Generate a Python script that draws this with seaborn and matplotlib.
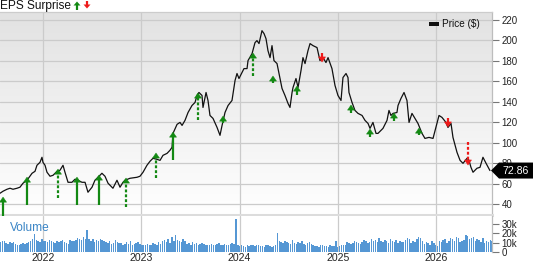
import numpy as np
import pandas as pd
import matplotlib
matplotlib.use("Agg")
import matplotlib.pyplot as plt
import seaborn as sns
from matplotlib.patches import Polygon
from matplotlib.colors import LinearSegmentedColormap
from matplotlib.ticker import FuncFormatter

# ---------------- data ----------------
t_price = [2021.563, 2021.594, 2021.634, 2021.665, 2021.695, 2021.736, 2021.766, 2021.797, 2021.838,
           2021.889, 2021.919, 2021.939, 2021.970, 2021.990, 2022.000, 2022.021, 2022.041, 2022.072,
           2022.102, 2022.143, 2022.173, 2022.204, 2022.224, 2022.255, 2022.295, 2022.326, 2022.356,
           2022.397, 2022.428, 2022.458, 2022.499, 2022.529, 2022.560, 2022.600, 2022.631, 2022.662,
           2022.712, 2022.753, 2022.784, 2022.814, 2022.835, 2022.885, 2022.957, 2022.987, 2023.018,
           2023.058, 2023.089, 2023.119, 2023.160, 2023.191, 2023.221, 2023.262, 2023.292, 2023.313,
           2023.323, 2023.364, 2023.394, 2023.415, 2023.445, 2023.476, 2023.516, 2023.547, 2023.567,
           2023.587, 2023.618, 2023.628, 2023.659, 2023.679, 2023.699, 2023.730, 2023.771, 2023.801,
           2023.822, 2023.852, 2023.883, 2023.923, 2023.954, 2023.974, 2023.994, 2024.025, 2024.045,
           2024.076, 2024.086, 2024.127, 2024.157, 2024.177, 2024.198, 2024.228, 2024.249, 2024.269,
           2024.289, 2024.310, 2024.330, 2024.350, 2024.381, 2024.401, 2024.432, 2024.462, 2024.493,
           2024.513, 2024.534, 2024.544, 2024.574, 2024.595, 2024.625, 2024.645, 2024.666, 2024.696,
           2024.717, 2024.747, 2024.788, 2024.818, 2024.849, 2024.879, 2024.900, 2024.940, 2024.971,
           2025.001, 2025.032, 2025.052, 2025.083, 2025.103, 2025.113, 2025.144, 2025.174, 2025.205,
           2025.246, 2025.276, 2025.307, 2025.327, 2025.357, 2025.388, 2025.408, 2025.459, 2025.500,
           2025.520, 2025.540, 2025.561, 2025.601, 2025.612, 2025.642, 2025.673, 2025.703, 2025.724,
           2025.754, 2025.785, 2025.815, 2025.856, 2025.886, 2025.927, 2025.968, 2026.008, 2026.029,
           2026.059, 2026.100, 2026.120, 2026.151, 2026.171, 2026.212, 2026.243, 2026.273, 2026.314,
           2026.334, 2026.354, 2026.375, 2026.415, 2026.446, 2026.476, 2026.507, 2026.547]
price = [50.7, 52.7, 54.6, 55.6, 54.6, 55.6, 56.6, 60.5, 63.4,
         70.2, 72.1, 78.0, 80.9, 85.8, 80.9, 78.0, 71.2, 67.3,
         68.2, 72.1, 73.1, 78.0, 71.2, 61.4, 61.4, 64.4, 63.4,
         61.4, 61.4, 51.7, 56.6, 63.4, 66.3, 70.2, 67.3, 60.5,
         55.6, 63.4, 56.6, 61.4, 63.4, 65.3, 66.3, 67.3, 71.2,
         78.0, 81.9, 84.8, 83.8, 82.8, 87.7, 89.6, 92.6, 95.5,
         109.1, 117.9, 119.8, 116.9, 121.8, 129.5, 136.3, 139.3, 146.1,
         149.0, 146.1, 134.4, 149.0, 141.2, 126.6, 123.7, 114.9, 107.2,
         116.9, 129.5, 136.3, 141.2, 160.7, 167.5, 162.6, 168.4, 172.3,
         172.3, 180.1, 186.9, 197.6, 199.6, 196.7, 209.3, 206.4, 201.5,
         189.8, 183.0, 194.7, 180.1, 177.2, 167.5, 152.9, 146.1, 138.3,
         134.4, 149.0, 153.9, 162.6, 153.9, 170.4, 183.0, 177.2, 189.8,
         196.7, 194.7, 192.8, 180.1, 183.0, 178.2, 183.0, 172.3, 155.8,
         146.1, 141.2, 163.6, 167.5, 163.6, 149.0, 139.3, 131.5, 128.6,
         126.6, 121.8, 118.8, 114.0, 119.8, 109.1, 109.1, 114.0, 121.8,
         131.5, 126.6, 128.6, 129.5, 136.3, 143.2, 149.0, 141.2, 119.8,
         128.6, 123.7, 118.8, 109.1, 104.2, 105.2, 104.2, 118.8, 126.6,
         124.7, 119.8, 114.9, 118.8, 105.2, 90.6, 82.8, 79.9, 84.8,
         82.8, 76.0, 71.2, 75.1, 76.0, 85.8, 80.0, 72.86]

# EPS surprise events: time, arrow tip, arrow tail (price units), direction, dashed stem
eps_t = [2021.594, 2021.838, 2022.153, 2022.346, 2022.570, 2022.845, 2023.150, 2023.323,
         2023.577, 2023.832, 2024.137, 2024.340, 2024.584, 2024.839, 2025.134, 2025.327,
         2025.571, 2025.825, 2026.120, 2026.324]
eps_tip = [47.0, 66.5, 74.3, 66.5, 68.5, 65.6, 90.0, 110.4,
           148.5, 126.0, 187.5, 165.1, 155.3, 178.7, 136.8, 113.4,
           129.0, 114.3, 115.3, 78.2]
eps_tail = [19.7, 39.2, 46.0, 39.2, 39.2, 37.3, 65.6, 83.1,
            122.1, 119.2, 165.1, 158.2, 146.5, 187.5, 129.0, 105.6,
            121.2, 107.5, 124.1, 100.7]
eps_dir = ['up', 'up', 'up', 'up', 'up', 'up', 'up', 'up',
           'up', 'up', 'up', 'up', 'up', 'down', 'up', 'up',
           'up', 'up', 'down', 'down']
eps_dashed = [False, False, True, False, False, True, True, False,
              True, False, True, False, False, False, False, False,
              False, False, False, True]

# weekly volume (thousands)
vol_k = [11, 12, 12, 10, 9, 11, 10, 11,
         9, 8, 8, 9, 10, 9,
         10, 11, 12, 14, 19, 13, 12, 11, 14, 12,
         12, 11, 13, 12, 11, 10, 12, 11,
         12, 13, 11, 10, 9, 13, 12, 12,
         13, 15, 14, 13, 16, 14, 24, 14,
         12, 14, 11, 13, 12, 14, 13, 12,
         11, 10, 12, 9, 10, 13, 11, 10,
         10, 8, 9, 11, 9, 12, 8, 9, 10, 11, 9,
         8, 7, 7, 9, 8, 7, 10, 9, 8, 11, 9,
         12, 13, 11, 14, 10, 16, 12, 18, 13, 12, 11, 14, 12,
         9, 10, 8, 11, 9, 10, 8, 9, 10, 9, 8,
         7, 8, 9, 7, 8, 9, 10, 8, 7, 9, 8, 8, 9, 10, 9,
         35,
         8, 6, 7, 6, 5, 7, 6, 8, 7, 6, 8, 7, 6,
         6, 5, 7, 8, 6, 5, 6, 7,
         20,
         12, 11, 10, 12, 11, 10, 9,
         13, 10, 9, 11, 10, 12, 9, 8, 10, 11, 9,
         7, 6, 6, 5, 7, 8, 6, 6, 5, 7, 6, 6,
         12,
         5, 6, 7, 8, 7,
         11, 10, 9, 10, 12, 11, 10, 9,
         11, 13, 12, 10, 11, 14, 12, 13, 11, 15, 12,
         11, 13, 12, 10, 14, 12, 11, 13, 10, 12, 11,
         11, 13, 15, 14, 10, 12, 11, 14, 16, 15, 12,
         9, 11, 10, 8, 12, 10, 7, 6,
         12, 11, 13, 14, 10, 12, 15,
         14, 12, 16, 15, 11, 12, 13, 18, 17, 14, 15,
         16, 12, 14, 13, 11, 15, 10, 12, 11, 13, 12]
vol_start = 2021.568

years = [2022, 2023, 2024, 2025, 2026]
price_ticks = [40, 60, 80, 100, 120, 140, 160, 180, 200, 220]
vol_ticks = [0, 10, 20, 30]

# ---------------- styling ----------------
sns.set_theme(style="white")
plt.rcParams['font.family'] = ['Liberation Sans', 'DejaVu Sans']

W, H = 533, 262
fig = plt.figure(figsize=(W / 100, H / 100), dpi=100)
fig.patch.set_facecolor('white')


def rect(l, t, r, b):
    return [l / W, 1 - b / H, (r - l) / W, (b - t) / H]


ax = fig.add_axes(rect(0, 12, 492, 215))
axv = fig.add_axes(rect(0, 216, 492, 252), sharex=ax)

XMIN, XMAX = 2021.563, 2026.568
YMIN, YMAX = 29.5, 227.5

# gradient background for price panel
cmap = LinearSegmentedColormap.from_list('bg', ['#e2e2e2', '#ffffff'])
ax.imshow(np.linspace(0, 1, 256).reshape(-1, 1), cmap=cmap, aspect='auto',
          extent=[XMIN, XMAX, YMIN, YMAX], origin='upper', zorder=0)

grid_c = '#cbcbcb'
ax.set_axisbelow(True)
ax.grid(True, color=grid_c, lw=0.9, zorder=0.5)
axv.set_axisbelow(True)
axv.grid(True, axis='x', color=grid_c, lw=0.9)
axv.grid(False, axis='y')

# price line
df = pd.DataFrame({'t': t_price, 'price': price})
sns.lineplot(data=df, x='t', y='price', ax=ax, color='#111111', lw=0.9, zorder=3)

# EPS arrows
head_w = 0.036   # half width in years
head_h = 5.0     # height in price units
for t, tip, tail, d, dash in zip(eps_t, eps_tip, eps_tail, eps_dir, eps_dashed):
    c = '#138913' if d == 'up' else '#ee1a1a'
    s = 1 if d == 'up' else -1
    base = tip - s * head_h
    ls = (0, (1.3, 0.9)) if dash else '-'
    if abs(tail - base) > 0.5:
        ax.plot([t, t], [tail, base + s * 0.5], color=c, lw=1.6, ls=ls,
                solid_capstyle='butt', clip_on=False, zorder=4)
    ax.add_patch(Polygon([(t - head_w, base), (t + head_w, base), (t, tip)],
                         closed=True, fc=c, ec=c, lw=0.3, clip_on=False, zorder=5))

# volume bars
step = 7 / 365.25
vol_t = [vol_start + i * step for i in range(len(vol_k))]
axv.bar(vol_t, vol_k, width=step * 0.78, color='#5597d4', edgecolor='none', zorder=2)

# limits & ticks
ax.set_xlim(XMIN, XMAX)
ax.set_ylim(YMIN, YMAX)
axv.set_ylim(0, 38.6)
ax.set_xticks(years)
ax.tick_params(axis='x', labelbottom=False, length=0)
ax.yaxis.tick_right()
ax.set_yticks(price_ticks)
ax.set_yticklabels([str(v) for v in price_ticks])
ax.tick_params(axis='y', length=5, width=0.8, color='#777777', pad=2,
               labelsize=7, labelcolor='#222222')
ax.set_xlabel('')
ax.set_ylabel('')

axv.yaxis.tick_right()
axv.set_yticks(vol_ticks)
axv.yaxis.set_major_formatter(FuncFormatter(lambda v, p: '0' if v == 0 else f'{int(v)}k'))
axv.tick_params(axis='y', length=5, width=0.8, color='#777777', pad=2,
                labelsize=7, labelcolor='#222222')
axv.set_xticks(years)
axv.set_xticklabels([str(y) for y in years])
axv.tick_params(axis='x', length=0, pad=0.6, labelsize=7.6, labelcolor='#222222')

for sp in ['left']:
    ax.spines[sp].set_visible(False)
ax.spines['top'].set_color('#cccccc')
ax.spines['top'].set_linewidth(0.9)
ax.spines['right'].set_color('#bdbdbd')
ax.spines['right'].set_linewidth(0.9)
ax.spines['bottom'].set_color('#dcdcdc')
ax.spines['bottom'].set_linewidth(2.2)
for sp in ['left', 'top', 'bottom']:
    axv.spines[sp].set_visible(False)
axv.spines['right'].set_color('#bdbdbd')
axv.spines['right'].set_linewidth(0.9)
axv.set_facecolor('white')

# texts
axv.text(10 / 492, 0.68, 'Volume', transform=axv.transAxes, color='#3a85c6',
         fontsize=8.6, va='center', ha='left')
ax.text(442 / 492, (215 - 24) / 203, 'Price ($)', transform=ax.transAxes,
        fontsize=7.2, va='center', ha='left', color='#111111')

# overlay in pixel coordinates for legend glyphs and last-price box
axo = fig.add_axes([0, 0, 1, 1], zorder=10)
axo.set_xlim(0, W)
axo.set_ylim(H, 0)
axo.set_axis_off()
axo.patch.set_alpha(0)

axo.text(0, 6, 'EPS Surprise', fontsize=8.6, va='center', ha='left', color='#111111')
# legend arrows
axo.plot([77, 77], [5, 10], color='#138913', lw=1.6, solid_capstyle='butt')
axo.add_patch(Polygon([(73.5, 5.5), (80.5, 5.5), (77, 1.5)], fc='#138913', ec='none'))
axo.plot([87, 87], [1, 5], color='#ee1a1a', lw=1.6, solid_capstyle='butt')
axo.add_patch(Polygon([(83.5, 4.5), (90.5, 4.5), (87, 8.5)], fc='#ee1a1a', ec='none'))
# price legend swatch
axo.add_patch(Polygon([(429, 21.5), (439, 21.5), (439, 25.5), (429, 25.5)], fc='#111111', ec='none'))

# last price box
last = price[-1]
_, ydisp = ax.transData.transform((XMAX, last))
yp = H - ydisp
axo.add_patch(Polygon([(491, yp), (499, yp - 8), (533, yp - 8), (533, yp + 8), (499, yp + 8)],
                      fc='black', ec='none'))
axo.text(502, yp, f'{last:.2f}', color='white', fontsize=7.6, va='center', ha='left')

fig.savefig('out.png', dpi=100)
